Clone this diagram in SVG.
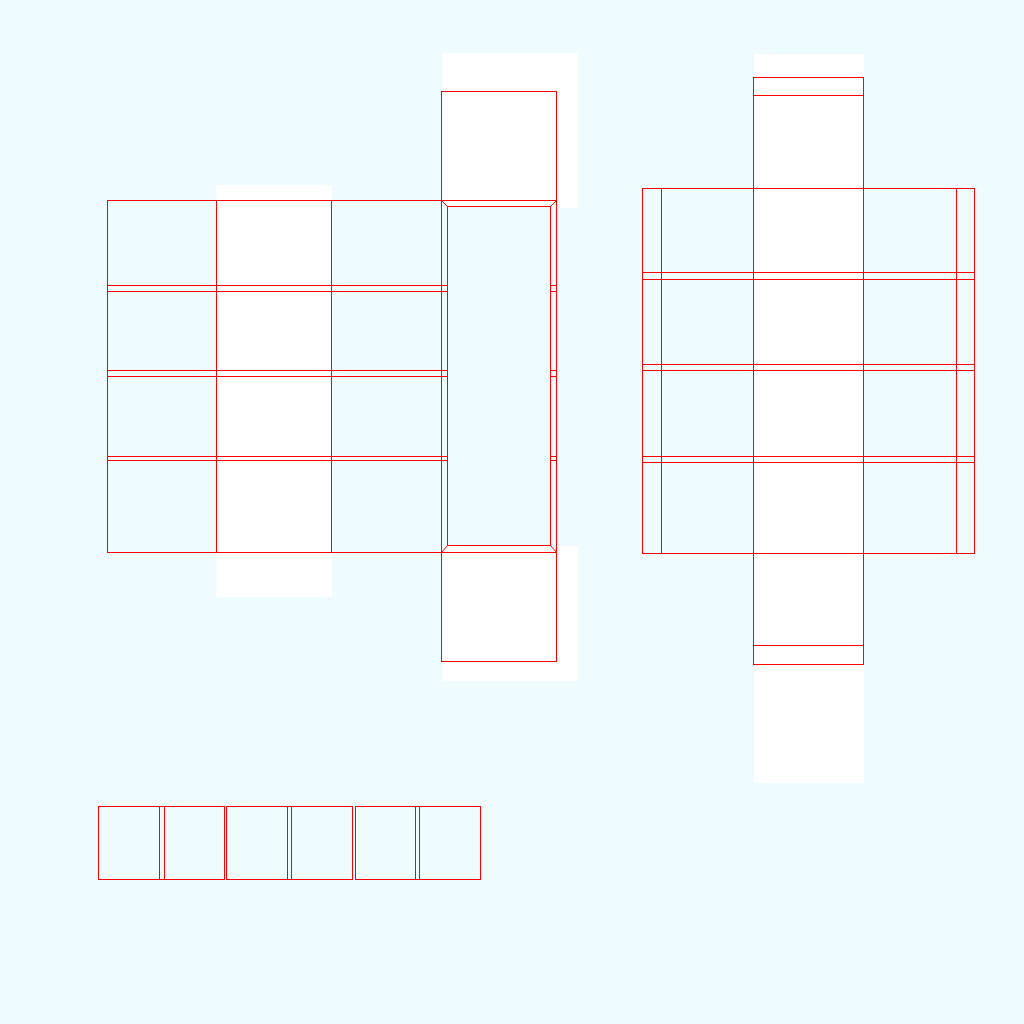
<svg xmlns="http://www.w3.org/2000/svg" width="1024" height="1024" viewBox="0 0 1024 1024">
<style>
.bg{fill:#eefcff}
.w{fill:#fff}
.r{fill:none;stroke:#f00;stroke-width:1}
.i{fill:#eefcff;stroke:#f00;stroke-width:1}
</style>
<rect class="bg" width="1024" height="1024"/>
<g id="paper-panels">
<rect class="w" x="216" y="185" width="116" height="412"/>
<rect class="w" x="442" y="53" width="136" height="155"/>
<rect class="w" x="442" y="546" width="136" height="135"/>
<rect class="w" x="754" y="54" width="110" height="729"/>
</g>
<g id="left-net">
<rect class="r" x="441.5" y="91.5" width="115" height="109"/>
<rect class="r" x="441.5" y="552.5" width="115" height="109"/>
<rect class="r" x="107.5" y="200.5" width="449" height="352"/>
<path class="r" d="M216.5 200.5V552.5M331.5 200.5V552.5M107.5 285.5H447.5M107.5 291.5H447.5M107.5 370.5H447.5M107.5 376.5H447.5M107.5 456.5H447.5M107.5 460.5H447.5M550.5 285.5H556.5M550.5 291.5H556.5M550.5 370.5H556.5M550.5 376.5H556.5M550.5 456.5H556.5M550.5 460.5H556.5"/>
<rect class="i" x="447.5" y="206.5" width="103" height="339"/>
<path class="r" d="M441.5 200.5L447.5 206.5M556.5 200.5L550.5 206.5M441.5 552.5L447.5 545.5M556.5 552.5L550.5 545.5"/>
<path class="r" d="M441.5 200.5V552.5"/>
</g>
<g id="right-net">
<rect class="r" x="753.5" y="77.5" width="110" height="587"/>
<rect class="r" x="642.5" y="188.5" width="332" height="365"/>
<path class="r" d="M753.5 95.5H863.5M753.5 645.5H863.5M661.5 188.5V553.5M956.5 188.5V553.5M642.5 272.5H974.5M642.5 279.5H974.5M642.5 364.5H974.5M642.5 370.5H974.5M642.5 456.5H974.5M642.5 462.5H974.5"/>
</g>
<g id="bottom-strips">
<rect class="r" x="98.5" y="806.5" width="126" height="73"/>
<rect class="r" x="226.5" y="806.5" width="126" height="73"/>
<rect class="r" x="355.5" y="806.5" width="125" height="73"/>
<path class="r" d="M159.5 806.5V879.5M164.5 806.5V879.5M287.5 806.5V879.5M291.5 806.5V879.5M415.5 806.5V879.5M419.5 806.5V879.5"/>
</g>
</svg>
